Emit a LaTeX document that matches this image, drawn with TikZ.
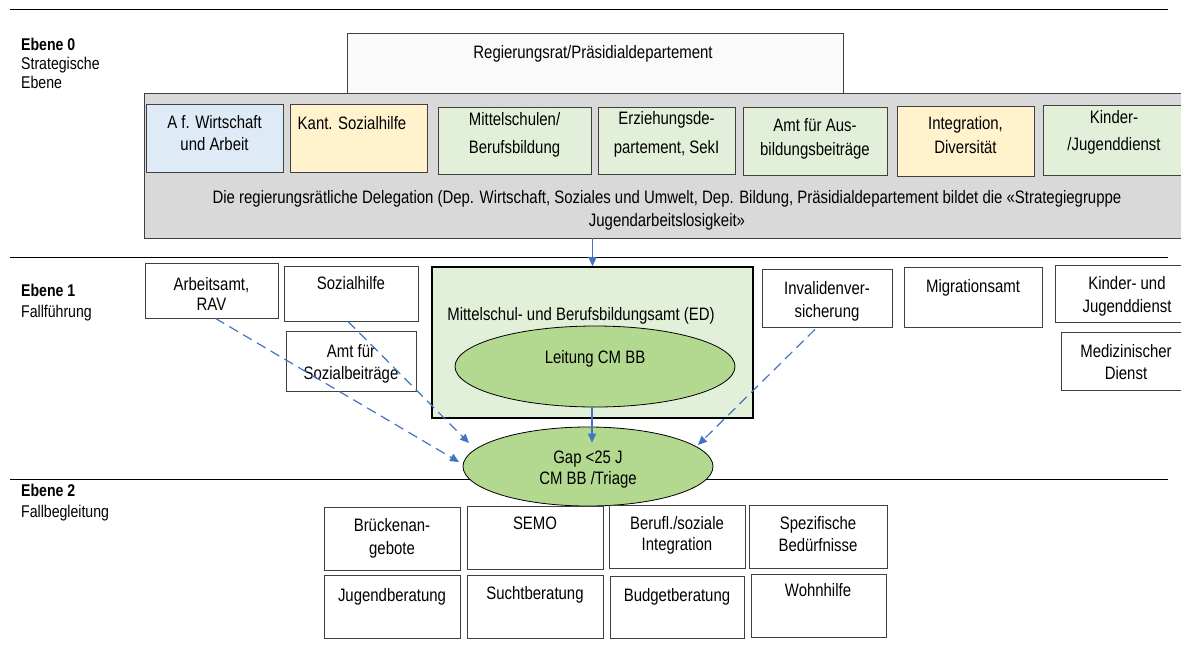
\documentclass[tikz,border=0pt]{standalone}
\usepackage{fontspec}
\setmainfont[FakeStretch=0.83]{Liberation Sans}
\usetikzlibrary{arrows.meta,calc,shapes.geometric}
\definecolor{greyfill}{HTML}{D9D9D9}
\definecolor{bluefill}{HTML}{DEEBF7}
\definecolor{yellowfill}{HTML}{FFF2CC}
\definecolor{greenfill}{HTML}{E2F0D9}
\definecolor{ellfill}{HTML}{B3D88F}
\definecolor{arrblue}{HTML}{4472C4}
\definecolor{topfill}{HTML}{FAFAFA}
\newcommand\bx[6]{\node[boxs,#6,minimum width={(#4-#2)*1pt},minimum height={(#5-#3)*1pt}] (#1) at ({(#2+#4)/2},{(#3+#5)/2}) {};}
% #3 = baseline of the LAST line
\newcommand\tx[5]{\node[txt,font=\fontsize{18}{#4}\selectfont] (#1) at (#2,#3) {#5};}
\begin{document}
\begin{tikzpicture}[x=1pt,y=-1pt,
  boxs/.style={draw=black!75,line width=0.8pt,rectangle,inner sep=0pt,fill=white},
  txt/.style={anchor=base,align=center,inner sep=0pt},
  lbl/.style={anchor=base west,align=left,inner sep=0pt},
  sep/.style={line width=0.8pt,black},
  arr/.style={arrblue,line width=1.2pt,-{Triangle[length=9pt,width=8pt]}},
  darr/.style={arrblue,line width=1.2pt,dash pattern=on 10pt off 6pt,-{Triangle[length=9pt,width=8pt]}},
  ell/.style={ellipse,draw=black,line width=0.8pt,fill=ellfill,inner sep=0pt}]
\clip (0,0) rectangle (1181,649);
\fill[white] (0,0) rectangle (1181,649);
% separators
\coordinate (l1a) at (10,9); \coordinate (l1b) at (1168,9);
\coordinate (l2a) at (10,257); \coordinate (l2b) at (1168,257);
\coordinate (l3a) at (10,479); \coordinate (l3b) at (1168,479);
\draw[sep] (l1a) -- (l1b);
\draw[sep] (l2a) -- (l2b);
\draw[sep] (l3a) -- (l3b);
% level labels
\node[lbl,font=\fontsize{17}{19}\selectfont] (e0) at (21,88) {\textbf{Ebene 0}\\Strategische\\Ebene};
\node[lbl,font=\fontsize{17}{21}\selectfont] (e1) at (21,317) {\textbf{Ebene 1}\\Fallführung};
\node[lbl,font=\fontsize{17}{21}\selectfont] (e2) at (21,517) {\textbf{Ebene 2}\\Fallbegleitung};
% Ebene 0
\bx{rr}{347}{33}{843}{93}{fill=topfill}
\tx{rrt}{593}{58}{18}{Regierungsrat/Präsidialdepartement}
\bx{grey}{144}{93}{1190}{238}{fill=greyfill}
\bx{o1}{146}{104}{283}{172}{fill=bluefill}
\bx{o2}{290}{104}{427}{172}{fill=yellowfill}
\bx{o3}{438}{107}{591}{174}{fill=greenfill}
\bx{o4}{598}{107}{735}{174}{fill=greenfill}
\bx{o5}{743}{107}{887}{175}{fill=greenfill}
\bx{o6}{897}{106}{1034}{176}{fill=yellowfill}
\bx{o7}{1043}{105}{1185}{175}{fill=greenfill}
\tx{o1t}{214.5}{150}{22}{A f. Wirtschaft\\und Arbeit}
\tx{o2t}{352}{129}{22}{Kant. Sozialhilfe}
\tx{o3t}{514.5}{153}{28}{Mittelschulen/\\Berufsbildung}
\tx{o4t}{666.5}{153}{29}{Erziehungsde-\\partement, SekI}
\tx{o5t}{815}{155}{24}{Amt für Aus-\\bildungsbeiträge}
\tx{o6t}{965.5}{153}{24}{Integration,\\Diversität}
\tx{o7t}{1114}{150}{27}{Kinder-\\/Jugenddienst}
\tx{delt}{667}{226}{23}{Die regierungsrätliche Delegation (Dep. Wirtschaft, Soziales und Umwelt, Dep. Bildung, Präsidialdepartement bildet die «Strategiegruppe\\Jugendarbeitslosigkeit»}
% Ebene 1
\bx{arb}{145}{263}{278}{318}{}
\tx{arbt}{211.5}{310}{20}{Arbeitsamt,\\RAV}
\bx{soz}{284}{266}{418}{321}{}
\tx{sozt}{351}{289}{20}{Sozialhilfe}
\bx{asb}{286}{331}{416}{391}{}
\tx{asbt}{351}{379}{22}{Amt für\\Sozialbeiträge}
\node[draw=black,line width=1.6pt,fill=greenfill,rectangle,inner sep=0pt,minimum width=321pt,minimum height=151pt] (ms) at (592.5,342.5) {};
\tx{mst}{581}{320}{20}{Mittelschul- und Berufsbildungsamt (ED)}
\node[ell,minimum width=280pt,minimum height=81pt] (lei) at (595,366.5) {};
\tx{leit}{595}{363}{20}{Leitung CM BB}
\bx{inv}{762}{269}{892}{327}{}
\tx{invt}{827}{317}{23}{Invalidenver-\\sicherung}
\bx{mig}{904}{267}{1042}{327}{}
\tx{migt}{973}{292}{20}{Migrationsamt}
\bx{kjd}{1055}{265}{1190}{322}{}
\tx{kjdt}{1127}{312}{23}{Kinder- und\\Jugenddienst}
\bx{med}{1061}{332}{1190}{390}{}
\tx{medt}{1126}{379}{22}{Medizinischer\\Dienst}
% Gap ellipse
\node[ell,minimum width=250pt,minimum height=79pt] (gap) at (588,466.5) {};
\tx{gapt}{588}{484}{21}{Gap <25 J\\CM BB /Triage}
% Ebene 2
\bx{f1}{324}{507}{460}{570}{}
\tx{f1t}{392}{554}{23}{Brückenan-\\gebote}
\bx{f2}{467}{506}{603}{569}{}
\tx{f2t}{535}{529}{20}{SEMO}
\bx{f3}{609}{505}{745}{568}{}
\tx{f3t}{677}{550}{21}{Berufl./soziale\\Integration}
\bx{f4}{749}{505}{887}{568}{}
\tx{f4t}{818}{551}{22}{Spezifische\\Bedürfnisse}
\bx{g1}{324}{575}{460}{638}{}
\tx{g1t}{392}{601}{20}{Jugendberatung}
\bx{g2}{467}{575}{603}{638}{}
\tx{g2t}{535}{599}{20}{Suchtberatung}
\bx{g3}{610}{576}{744}{638}{}
\tx{g3t}{677}{601}{20}{Budgetberatung}
\bx{g4}{751}{574}{886}{637}{}
\tx{g4t}{818}{596}{20}{Wohnhilfe}
% connectors
\coordinate (arbend) at (459,462);
\coordinate (sozend) at (469,443);
\coordinate (invend) at (698,445);
\draw[arr] (grey.south -| ms.north) -- (ms.north);
\draw[arr] ($(lei.south)+(-3,0)$) -- ($(gap.north)+(4,16)$);
\draw[darr] ($(arb.south)+(4,0)$) -- (arbend);
\draw[darr] ($(soz.south)+(-3,0)$) -- (sozend);
\draw[darr] ($(inv.south)+(-12,2)$) -- (invend);
\end{tikzpicture}
\end{document}
